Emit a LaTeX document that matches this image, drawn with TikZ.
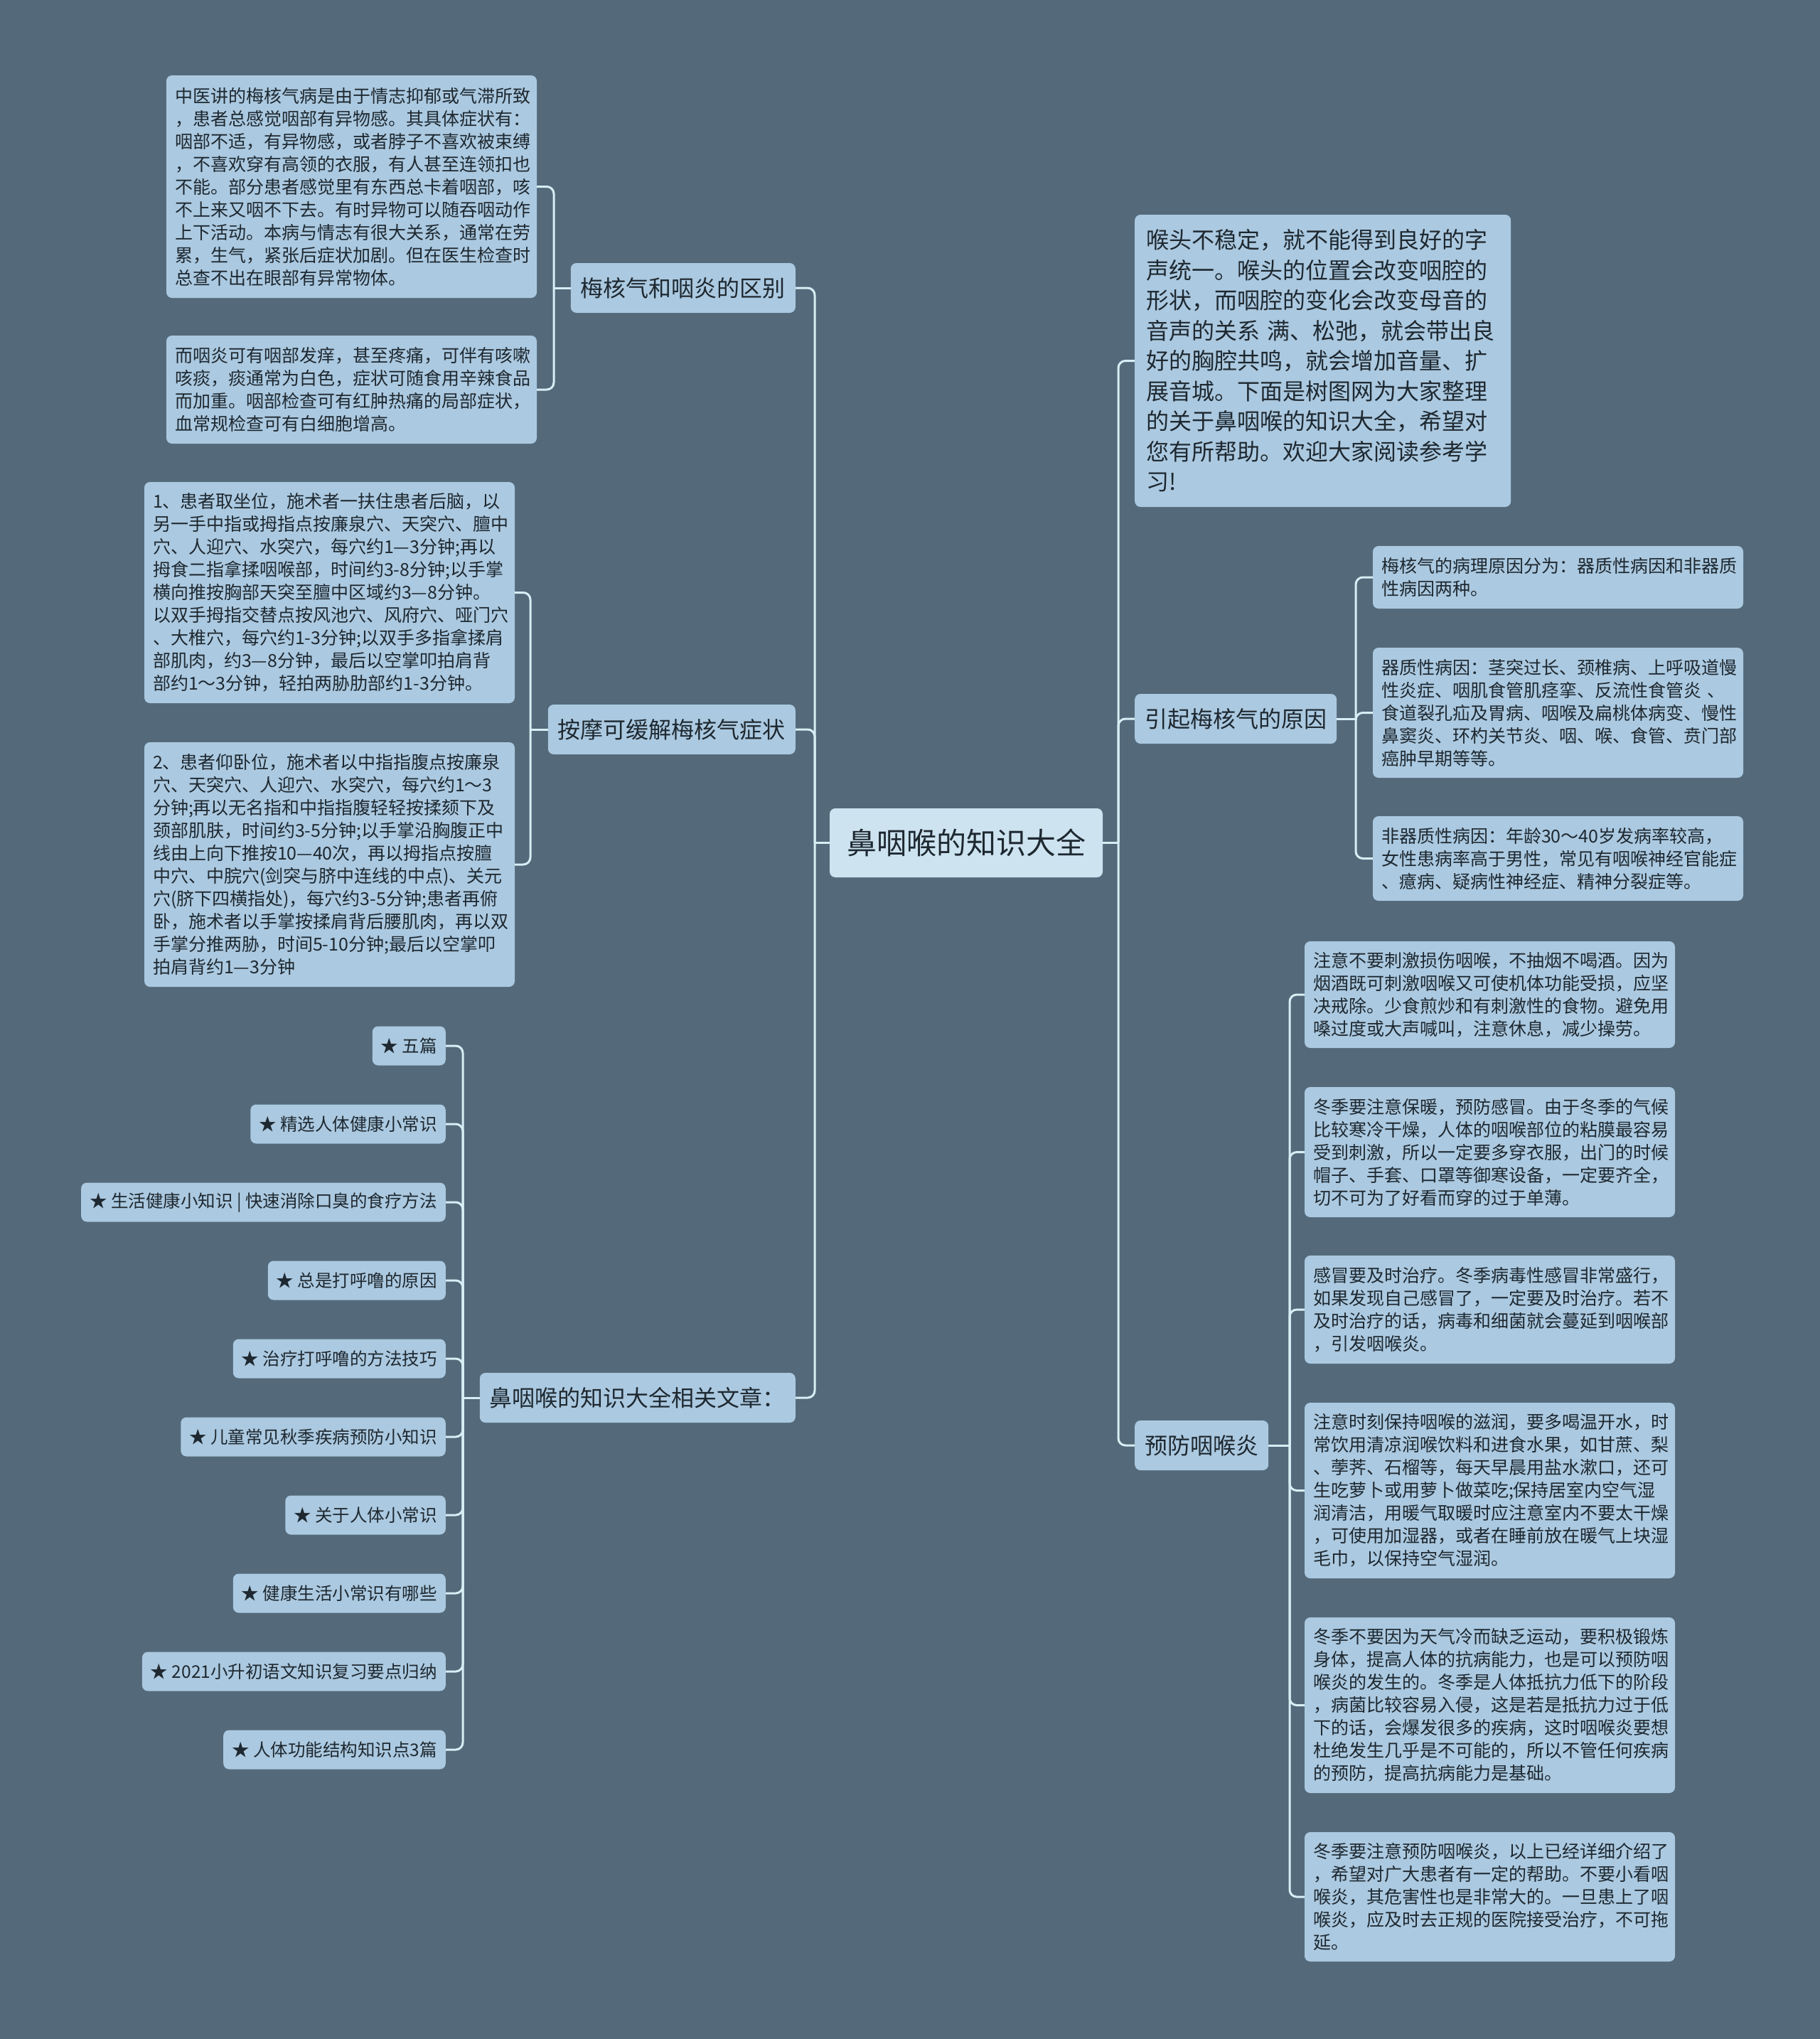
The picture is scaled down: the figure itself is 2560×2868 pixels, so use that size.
\documentclass[tikz,border=0pt]{standalone}
\usepackage{fontspec}
\setmainfont{Noto Sans CJK SC}
\definecolor{bgc}{HTML}{546A7B}
\definecolor{boxc}{HTML}{ABC9E0}
\definecolor{ctrc}{HTML}{CDE3F0}
\definecolor{linec}{HTML}{D6EEF4}
\definecolor{txtc}{HTML}{1E2830}
\begin{document}
\begin{tikzpicture}[x=1pt,y=-1pt,
  conn/.style={draw=linec, line width=3pt, rounded corners=10pt},
  box/.style={fill=boxc, rounded corners=8pt, text=txtc, inner sep=0pt},
  sub/.style={box, align=left, font=\fontsize{25}{32}\selectfont, text width=497pt, inner xsep=12pt, minimum height=#1},
  branch/.style={box, font=\fontsize{32}{40}\selectfont, inner xsep=14pt, minimum height=70pt},
  intro/.style={box, align=left, font=\fontsize{32}{42.5}\selectfont, text width=497pt, inner xsep=16pt, minimum height=411pt},
  item/.style={box, font=\fontsize{24.5}{30}\selectfont, inner xsep=12pt, minimum height=55pt}
]
\fill[bgc] (0,0) rectangle (2560,2868);
\useasboundingbox (0,0) rectangle (2560,2868);

% central
\node[box, fill=ctrc, font=\fontsize{42}{50}\selectfont, minimum width=384pt, minimum height=97pt] (ct) at (1359,1185.5) {鼻咽喉的知识大全};

% junctions
\coordinate (jl) at (1146,1185.5);
\coordinate (jr) at (1573,1185.5);

% left branches
\node[branch, anchor=east] (b1) at (1119,405) {梅核气和咽炎的区别};
\node[branch, anchor=east] (b2) at (1119,1026) {按摩可缓解梅核气症状};
\node[branch, anchor=east] (b3) at (1119,1966) {鼻咽喉的知识大全相关文章：};

% right branches
\node[intro, anchor=west] (r0) at (1596,507.5) {喉头不稳定，就不能得到良好的字\\声统一。喉头的位置会改变咽腔的\\形状，而咽腔的变化会改变母音的\\音声的关系 满、松弛，就会带出良\\好的胸腔共鸣，就会增加音量、扩\\展音城。下面是树图网为大家整理\\的关于鼻咽喉的知识大全，希望对\\您有所帮助。欢迎大家阅读参考学\\习!};
\node[branch, anchor=west] (r1) at (1596,1011) {引起梅核气的原因};
\node[branch, anchor=west] (r2) at (1596,2033) {预防咽喉炎};

\draw[conn] (ct.west) -- (jl);
\draw[conn] (ct.east) -- (jr);
\foreach \n in {b1,b2,b3} \draw[conn] (jl) |- (\n.east);
\foreach \n in {r0,r1,r2} \draw[conn] (jr) |- (\n.west);

% b1 children
\node[sub=313pt] (m1) at (494.5,262.5) {中医讲的梅核气病是由于情志抑郁或气滞所致\\，患者总感觉咽部有异物感。其具体症状有：\\咽部不适，有异物感，或者脖子不喜欢被束缚\\，不喜欢穿有高领的衣服，有人甚至连领扣也\\不能。部分患者感觉里有东西总卡着咽部，咳\\不上来又咽不下去。有时异物可以随吞咽动作\\上下活动。本病与情志有很大关系，通常在劳\\累，生气，紧张后症状加剧。但在医生检查时\\总查不出在眼部有异常物体。};
\node[sub=152pt] (m2) at (494.5,548) {而咽炎可有咽部发痒，甚至疼痛，可伴有咳嗽\\咳痰，痰通常为白色，症状可随食用辛辣食品\\而加重。咽部检查可有红肿热痛的局部症状，\\血常规检查可有白细胞增高。};
\coordinate (j1) at (779,405);
\draw[conn] (b1.west) -- (j1);
\foreach \n in {m1,m2} \draw[conn] (j1) |- (\n.east);

% b2 children
\node[sub=311pt] (a1) at (463.5,833.5) {1、患者取坐位，施术者一扶住患者后脑，以\\另一手中指或拇指点按廉泉穴、天突穴、膻中\\穴、人迎穴、水突穴，每穴约1—3分钟;再以\\拇食二指拿揉咽喉部，时间约3-8分钟;以手掌\\横向推按胸部天突至膻中区域约3—8分钟。\\以双手拇指交替点按风池穴、风府穴、哑门穴\\、大椎穴，每穴约1-3分钟;以双手多指拿揉肩\\部肌肉，约3—8分钟，最后以空掌叩拍肩背\\部约1～3分钟，轻拍两胁肋部约1-3分钟。};
\node[sub=344pt] (a2) at (463.5,1216) {2、患者仰卧位，施术者以中指指腹点按廉泉\\穴、天突穴、人迎穴、水突穴，每穴约1～3\\分钟;再以无名指和中指指腹轻轻按揉颏下及\\颈部肌肤，时间约3-5分钟;以手掌沿胸腹正中\\线由上向下推按10—40次，再以拇指点按膻\\中穴、中脘穴(剑突与脐中连线的中点)、关元\\穴(脐下四横指处)，每穴约3-5分钟;患者再俯\\卧，施术者以手掌按揉肩背后腰肌肉，再以双\\手掌分推两胁，时间5-10分钟;最后以空掌叩\\拍肩背约1—3分钟};
\coordinate (j2) at (746,1026);
\draw[conn] (b2.west) -- (j2);
\foreach \n in {a1,a2} \draw[conn] (j2) |- (\n.east);

% b3 children
\node[item, anchor=east] (i1) at (627,1471) {★ 五篇};
\node[item, anchor=east] (i2) at (627,1581) {★ 精选人体健康小常识};
\node[item, anchor=east] (i3) at (627,1691) {★ 生活健康小知识 | 快速消除口臭的食疗方法};
\node[item, anchor=east] (i4) at (627,1801) {★ 总是打呼噜的原因};
\node[item, anchor=east] (i5) at (627,1911) {★ 治疗打呼噜的方法技巧};
\node[item, anchor=east] (i6) at (627,2021) {★ 儿童常见秋季疾病预防小知识};
\node[item, anchor=east] (i7) at (627,2131) {★ 关于人体小常识};
\node[item, anchor=east] (i8) at (627,2241) {★ 健康生活小常识有哪些};
\node[item, anchor=east] (i9) at (627,2351) {★ 2021小升初语文知识复习要点归纳};
\node[item, anchor=east] (i10) at (627,2461) {★ 人体功能结构知识点3篇};
\coordinate (j3) at (651,1966);
\draw[conn] (b3.west) -- (j3);
\foreach \n in {i1,i2,i3,i4,i5,i6,i7,i8,i9,i10} \draw[conn] (j3) |- (\n.east);

% r1 children
\node[sub=88pt] (c1) at (2191.5,812) {梅核气的病理原因分为：器质性病因和非器质\\性病因两种。};
\node[sub=183pt] (c2) at (2191.5,1002.5) {器质性病因：茎突过长、颈椎病、上呼吸道慢\\性炎症、咽肌食管肌痉挛、反流性食管炎 、\\食道裂孔疝及胃病、咽喉及扁桃体病变、慢性\\鼻窦炎、环杓关节炎、咽、喉、食管、贲门部\\癌肿早期等等。};
\node[sub=119pt] (c3) at (2191.5,1207.5) {非器质性病因：年龄30～40岁发病率较高，\\女性患病率高于男性，常见有咽喉神经官能症\\、癔病、疑病性神经症、精神分裂症等。};
\coordinate (j4) at (1907,1011);
\draw[conn] (r1.east) -- (j4);
\foreach \n in {c1,c2,c3} \draw[conn] (j4) |- (\n.west);

% r2 children
\node[sub=150pt] (p1) at (2095.5,1399) {注意不要刺激损伤咽喉，不抽烟不喝酒。因为\\烟酒既可刺激咽喉又可使机体功能受损，应坚\\决戒除。少食煎炒和有刺激性的食物。避免用\\嗓过度或大声喊叫，注意休息，减少操劳。};
\node[sub=183pt] (p2) at (2095.5,1620.5) {冬季要注意保暖，预防感冒。由于冬季的气候\\比较寒冷干燥，人体的咽喉部位的粘膜最容易\\受到刺激，所以一定要多穿衣服，出门的时候\\帽子、手套、口罩等御寒设备，一定要齐全，\\切不可为了好看而穿的过于单薄。};
\node[sub=152pt] (p3) at (2095.5,1842) {感冒要及时治疗。冬季病毒性感冒非常盛行，\\如果发现自己感冒了，一定要及时治疗。若不\\及时治疗的话，病毒和细菌就会蔓延到咽喉部\\，引发咽喉炎。};
\node[sub=247pt] (p4) at (2095.5,2096.5) {注意时刻保持咽喉的滋润，要多喝温开水，时\\常饮用清凉润喉饮料和进食水果，如甘蔗、梨\\、荸荠、石榴等，每天早晨用盐水漱口，还可\\生吃萝卜或用萝卜做菜吃;保持居室内空气湿\\润清洁，用暖气取暖时应注意室内不要太干燥\\，可使用加湿器，或者在睡前放在暖气上块湿\\毛巾，以保持空气湿润。};
\node[sub=247pt] (p5) at (2095.5,2398.5) {冬季不要因为天气冷而缺乏运动，要积极锻炼\\身体，提高人体的抗病能力，也是可以预防咽\\喉炎的发生的。冬季是人体抵抗力低下的阶段\\，病菌比较容易入侵，这是若是抵抗力过于低\\下的话，会爆发很多的疾病，这时咽喉炎要想\\杜绝发生几乎是不可能的，所以不管任何疾病\\的预防，提高抗病能力是基础。};
\node[sub=182pt] (p6) at (2095.5,2668) {冬季要注意预防咽喉炎，以上已经详细介绍了\\，希望对广大患者有一定的帮助。不要小看咽\\喉炎，其危害性也是非常大的。一旦患上了咽\\喉炎，应及时去正规的医院接受治疗，不可拖\\延。};
\coordinate (j5) at (1814,2033);
\draw[conn] (r2.east) -- (j5);
\foreach \n in {p1,p2,p3,p4,p5,p6} \draw[conn] (j5) |- (\n.west);
\end{tikzpicture}
\end{document}
